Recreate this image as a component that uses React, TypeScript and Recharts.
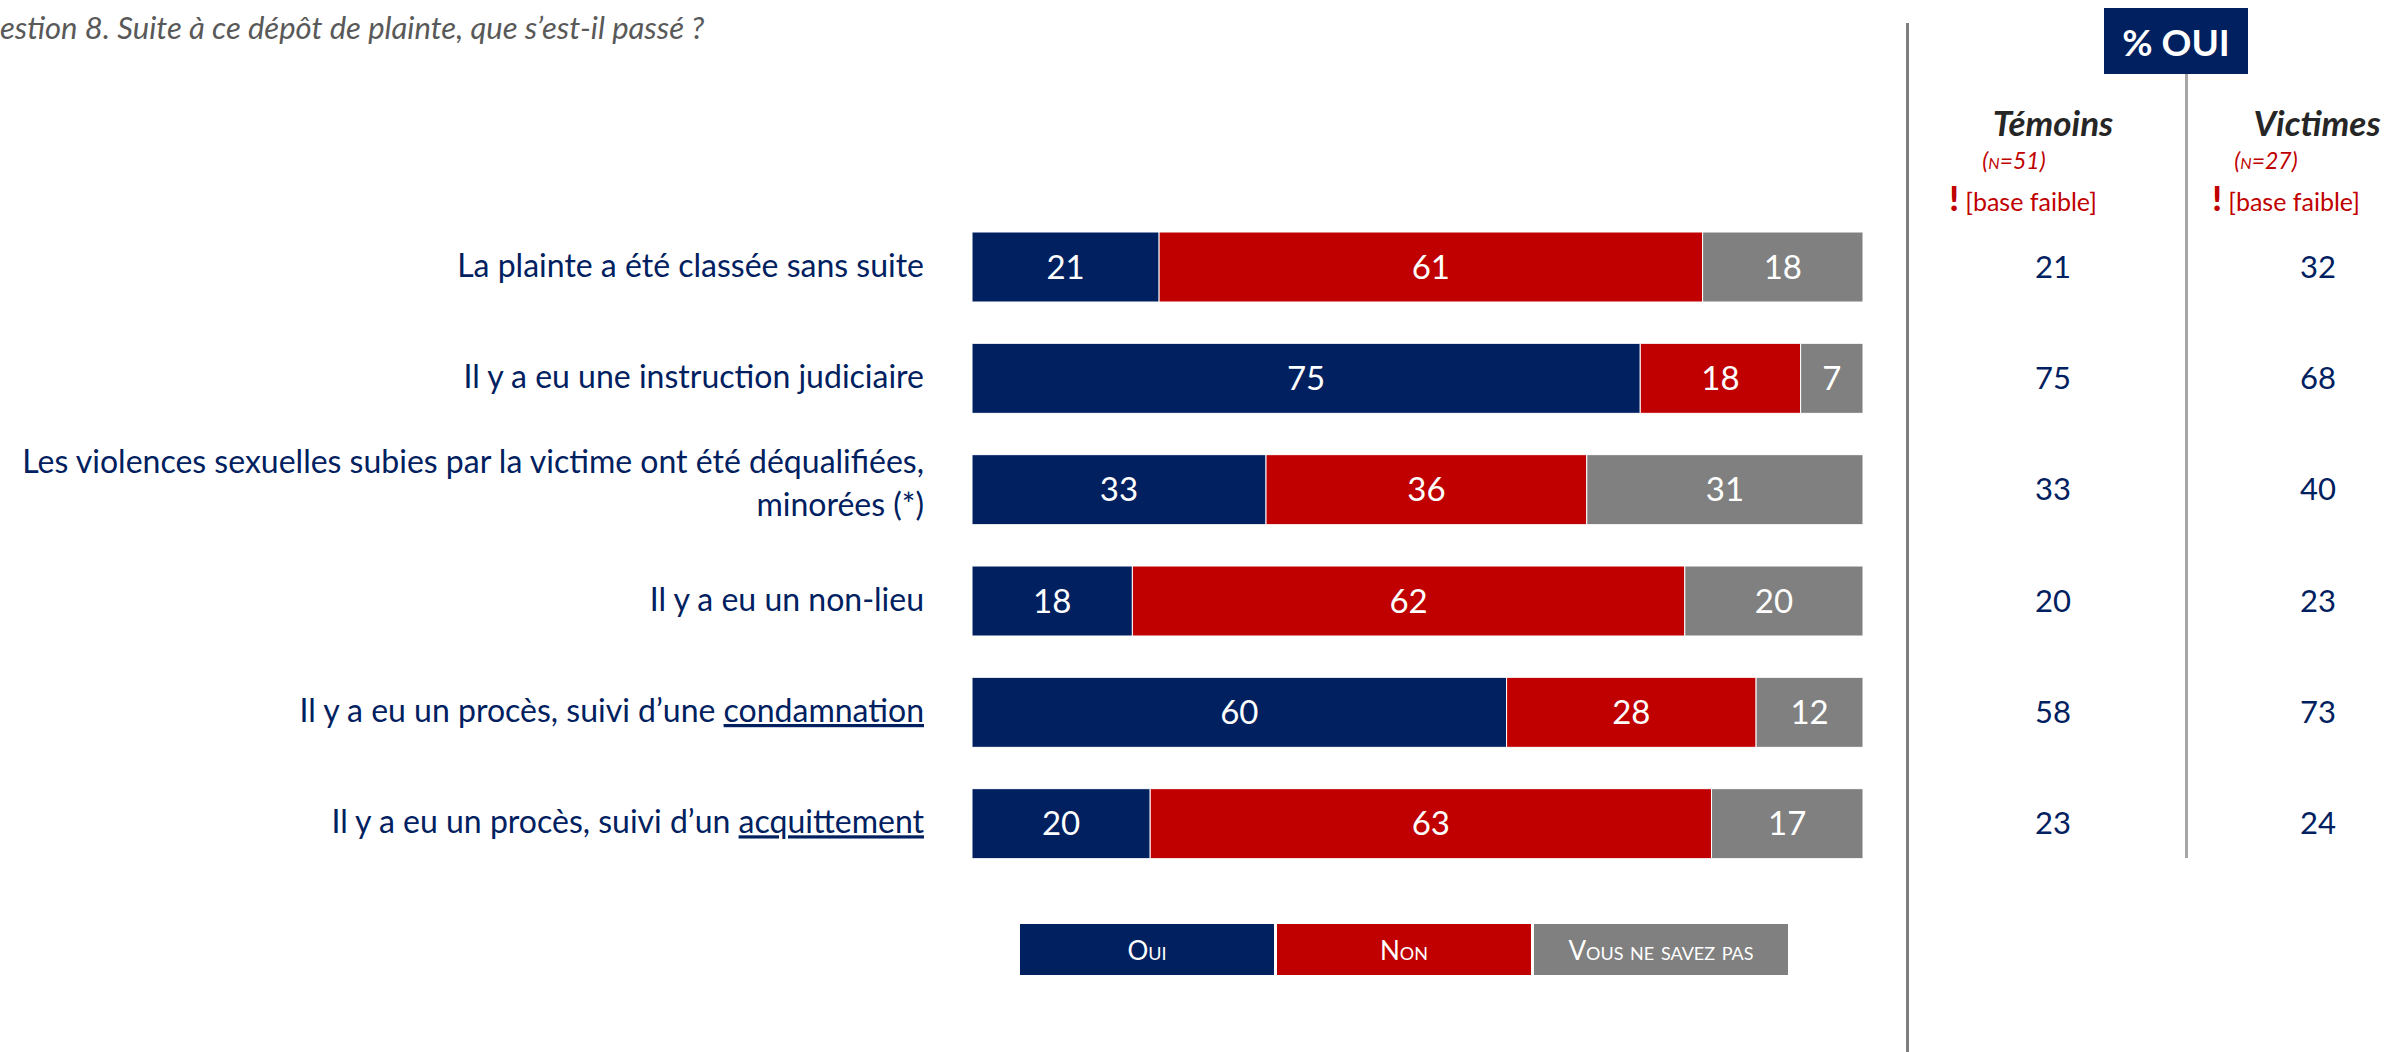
import { BarChart, Bar, XAxis, YAxis, LabelList } from 'recharts';

const categories = [
  'La plainte a été classée sans suite',
  'Il y a eu une instruction judiciaire',
  'Les violences sexuelles subies par la victime ont été déqualifiées, minorées (*)',
  'Il y a eu un non-lieu',
  'Il y a eu un procès, suivi d’une condamnation',
  'Il y a eu un procès, suivi d’un acquittement',
];
const underlined = ['', '', '', '', 'condamnation', 'acquittement'];

const oui = [21, 75, 33, 18, 60, 20];
const non = [61, 18, 36, 62, 28, 63];
const nsp = [18, 7, 31, 20, 12, 17];

const temoins = [21, 75, 33, 20, 58, 23];
const victimes = [32, 68, 40, 23, 73, 24];

const seriesNames = ['Oui', 'Non', 'Vous ne savez pas'];
const groups = [
  { name: 'Témoins', n: 'n=51' },
  { name: 'Victimes', n: 'n=27' },
];

const NAVY = '#002060';
const RED = '#C00000';
const GRAY = '#808080';
const seriesColors = [NAVY, RED, GRAY];
const FONT = 'Lato, "Open Sans", sans-serif';

const data = categories.map((label, i) => ({
  label,
  oui: oui[i],
  non: non[i],
  nsp: nsp[i],
  temoins: temoins[i],
  victimes: victimes[i],
}));

const LeftTick = (props: any) => {
  const { x, y, payload } = props;
  const i = categories.indexOf(payload.value);
  const text: string = payload.value;
  const style = { fontFamily: FONT, fontSize: 32, fill: NAVY };
  if (text.length > 60) {
    const cut = text.lastIndexOf(', ') + 1;
    return (
      <text x={x} y={y} textAnchor="end" style={style}>
        <tspan x={x} dy={-16}>{text.slice(0, cut)}</tspan>
        <tspan x={x} dy={43}>{text.slice(cut + 1)}</tspan>
      </text>
    );
  }
  const u = underlined[i];
  const head = u ? text.slice(0, text.length - u.length) : text;
  return (
    <text x={x} y={y} dy={10} textAnchor="end" style={style}>
      <tspan>{head}</tspan>
      {u && <tspan style={{ textDecoration: 'underline' }}>{u}</tspan>}
    </text>
  );
};

const RightTick = (props: any) => {
  const { x, y, payload } = props;
  const row = data.find((d) => d.label === payload.value);
  if (!row) return null;
  const style = { fontFamily: FONT, fontSize: 31, fill: NAVY };
  return (
    <g>
      <text x={x + 190} y={y} dy={11} textAnchor="middle" style={style}>
        {row.temoins}
      </text>
      <text x={x + 455} y={y} dy={11} textAnchor="middle" style={style}>
        {row.victimes}
      </text>
    </g>
  );
};

const labelStyle = { fontFamily: FONT, fontSize: 33, fill: '#fff' };

export default function App() {
  return (
    <div style={{ position: 'relative', width: 2390, height: 1052, background: '#fff', fontFamily: FONT }}>
      <style>{`body{margin:0}`}</style>

      <div
        style={{
          position: 'absolute',
          left: 0,
          top: 8,
          fontSize: 31,
          fontStyle: 'italic',
          color: '#595959',
          whiteSpace: 'nowrap',
        }}
      >
        estion 8. Suite à ce dépôt de plainte, que s’est-il passé ?
      </div>

      <BarChart
        width={2390}
        height={1052}
        data={data}
        layout="vertical"
        barSize={70}
        margin={{ top: 211, bottom: 173, left: 0, right: 0 }}
      >
        <XAxis type="number" domain={[0, 100]} hide />
        <YAxis
          yAxisId="left"
          type="category"
          dataKey="label"
          width={972}
          axisLine={false}
          tickLine={false}
          tickSize={0}
          tickMargin={48}
          tick={<LeftTick />}
          interval={0}
        />
        <YAxis
          yAxisId="right"
          orientation="right"
          type="category"
          dataKey="label"
          width={527}
          axisLine={false}
          tickLine={false}
          tickSize={0}
          tickMargin={0}
          tick={<RightTick />}
          interval={0}
        />
        <Bar yAxisId="left" dataKey="oui" stackId="a" fill={NAVY} stroke="#fff" strokeWidth={1} isAnimationActive={false}>
          <LabelList dataKey="oui" position="center" style={labelStyle} />
        </Bar>
        <Bar yAxisId="left" dataKey="non" stackId="a" fill={RED} stroke="#fff" strokeWidth={1} isAnimationActive={false}>
          <LabelList dataKey="non" position="center" style={labelStyle} />
        </Bar>
        <Bar yAxisId="left" dataKey="nsp" stackId="a" fill={GRAY} stroke="#fff" strokeWidth={1} isAnimationActive={false}>
          <LabelList dataKey="nsp" position="center" style={labelStyle} />
        </Bar>
      </BarChart>

      {/* legend */}
      <div style={{ position: 'absolute', left: 1020, top: 924, display: 'flex', gap: 3 }}>
        {seriesNames.map((s, i) => (
          <div
            key={s}
            style={{
              width: 254,
              height: 51,
              background: seriesColors[i],
              color: '#fff',
              fontVariant: 'small-caps',
              fontSize: 26,
              display: 'flex',
              alignItems: 'center',
              justifyContent: 'center',
            }}
          >
            {s}
          </div>
        ))}
      </div>

      {/* right panel */}
      <div style={{ position: 'absolute', left: 1906, top: 23, width: 3, height: 1029, background: '#7f7f7f' }} />
      <div style={{ position: 'absolute', left: 2185, top: 74, width: 3, height: 784, background: '#a6a6a6' }} />
      <div
        style={{
          position: 'absolute',
          left: 2104,
          top: 8,
          width: 144,
          height: 66,
          background: NAVY,
          color: '#fff',
          fontWeight: 700,
          fontSize: 37,
          display: 'flex',
          alignItems: 'center',
          justifyContent: 'center',
        }}
      >
        % OUI
      </div>

      {groups.map((g, i) => {
        const cx = i === 0 ? 2053 : 2317;
        const nx = i === 0 ? 2014 : 2266;
        const bx = i === 0 ? 2023 : 2286;
        return (
          <div key={g.name}>
            <div
              style={{
                position: 'absolute',
                left: cx,
                top: 101,
                transform: 'translateX(-50%)',
                fontSize: 35,
                fontWeight: 700,
                fontStyle: 'italic',
                color: '#262626',
                whiteSpace: 'nowrap',
              }}
            >
              {g.name}
            </div>
            <div
              style={{
                position: 'absolute',
                left: nx,
                top: 146,
                transform: 'translateX(-50%)',
                fontSize: 23,
                fontStyle: 'italic',
                fontVariant: 'small-caps',
                color: RED,
                whiteSpace: 'nowrap',
              }}
            >
              ({g.n})
            </div>
            <div
              style={{
                position: 'absolute',
                left: bx,
                top: 177,
                transform: 'translateX(-50%)',
                fontSize: 25,
                color: RED,
                whiteSpace: 'nowrap',
              }}
            >
              <span style={{ fontWeight: 900, fontSize: 34 }}>!</span> [base faible]
            </div>
          </div>
        );
      })}
    </div>
  );
}
